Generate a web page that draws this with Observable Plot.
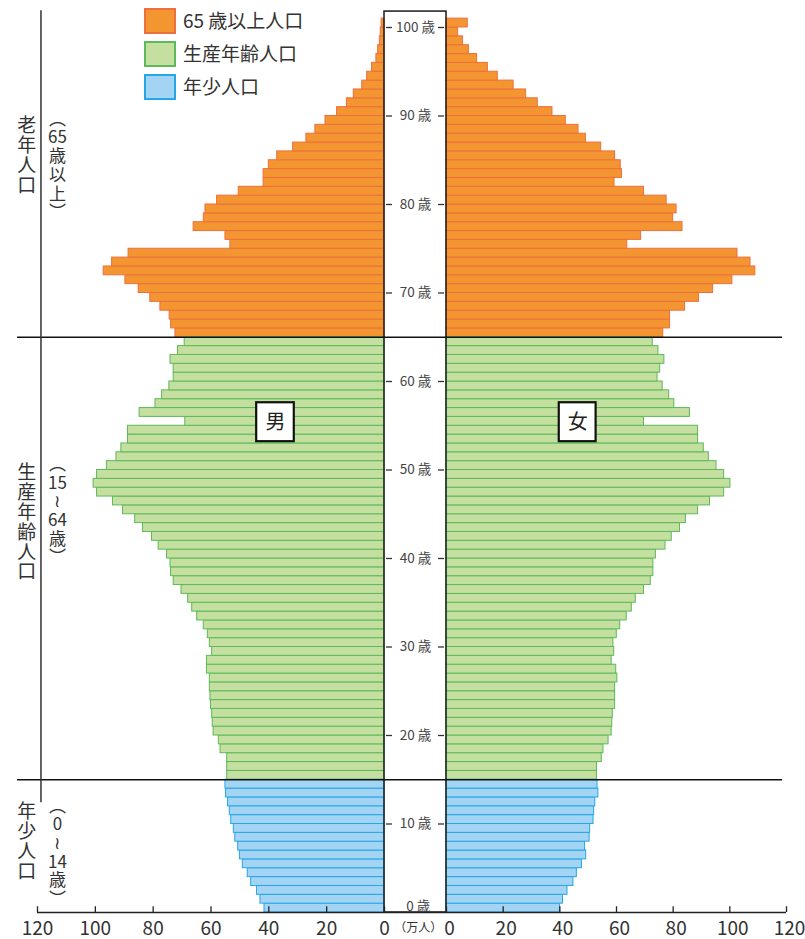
<!DOCTYPE html>
<html>
<head>
<meta charset="utf-8">
<script src="https://cdn.jsdelivr.net/npm/d3@7"></script>
<script src="https://cdn.jsdelivr.net/npm/@observablehq/plot@0.6"></script>
<style>
  body { margin: 0; background: #fff; font-family: "Noto Sans CJK JP", "Noto Sans", sans-serif; }
  #wrap { position: relative; width: 805px; height: 939px; }
  #legend { position: absolute; left: 144px; top: 8px; }
  .item { position: relative; height: 33px; display: flex; align-items: flex-start; }
  .sw { width: 32px; height: 26px; box-sizing: border-box; border: 2px solid; }
  .lab { margin-left: 7px; font-size: 19px; line-height: 24px; color: #333; }
</style>
</head>
<body>
<div id="wrap">
  <div id="chart"></div>
  <div id="legend"></div>
</div>
<script>
// ---- data (万人) ----
const ages = d3.range(0, 101); // 0..100 (100 = 100歳以上)
const male = [
  41.5, 42.9, 44.1, 46.1, 47.3, 49.0, 50.0, 50.6, 51.6, 52.1,
  53.0, 53.5, 54.1, 54.8, 55.0, 54.4, 54.4, 54.4, 56.7, 57.3,
  59.1, 59.4, 59.6, 60.0, 60.2, 60.4, 60.4, 61.4, 61.4, 59.6,
  60.4, 61.1, 62.5, 64.8, 66.5, 67.9, 70.2, 72.9, 73.8, 74.0,
  75.2, 78.1, 80.4, 83.5, 86.2, 90.4, 93.9, 99.4, 100.6, 99.4,
  96.0, 92.7, 91.0, 88.7, 88.7, 68.9, 84.7, 79.2, 76.9, 74.4,
  72.9, 72.9, 74.0, 71.4, 69.1, 72.3, 73.8, 74.3, 77.5, 81.0,
  85.0, 89.6, 97.1, 94.2, 88.5, 53.3, 55.0, 66.0, 62.5, 61.9,
  57.9, 50.4, 41.8, 41.8, 40.0, 37.1, 31.6, 27.0, 23.9, 20.4,
  16.4, 13.0, 10.6, 7.7, 6.0, 4.3, 2.8, 2.2, 1.6, 1.3,
  1.0
];
const female = [
  40.1, 41.1, 42.7, 44.8, 46.0, 47.8, 49.3, 48.9, 50.5, 50.7,
  51.9, 52.1, 52.5, 53.6, 53.3, 53.1, 53.1, 54.8, 55.4, 57.2,
  58.3, 58.5, 58.7, 59.5, 59.5, 59.5, 60.3, 59.9, 58.3, 59.2,
  58.9, 60.1, 61.3, 63.6, 65.4, 66.8, 69.7, 72.1, 73.0, 73.0,
  73.9, 77.3, 79.5, 82.4, 84.5, 88.8, 93.0, 98.0, 100.2, 98.0,
  95.3, 92.6, 90.8, 88.8, 88.8, 69.7, 85.9, 80.4, 78.6, 76.3,
  74.5, 75.4, 76.9, 74.8, 72.8, 76.5, 78.9, 78.9, 84.2, 89.1,
  94.1, 100.9, 109.0, 107.3, 102.7, 63.8, 68.7, 83.3, 80.0, 81.2,
  77.7, 69.7, 59.3, 61.9, 61.5, 59.5, 54.6, 49.2, 46.6, 42.1,
  37.4, 32.2, 28.1, 23.7, 18.1, 14.6, 10.8, 7.9, 5.8, 4.1,
  7.5
];
const groupNames = ["65 歳以上人口", "生産年齢人口", "年少人口"];
const groupFrom = [65, 15, 0];
const groupTo = [101, 65, 15];
const groupFill = ["#f39530", "#c4df9f", "#a3d4f3"];
const groupStroke = ["#ee6f3e", "#5cba58", "#27a6e6"];
const groupLabels = ["老\n年\n人\n口", "生\n産\n年\n齢\n人\n口", "年\n少\n人\n口"];
const groupSubLabels = ["︵\n65\n歳\n以\n上\n︶", "︵\n15\n≀\n64\n歳\n︶", "︵\n0\n≀\n14\n歳\n︶"];
const ageTicks = [0, 10, 20, 30, 40, 50, 60, 70, 80, 90, 100];
const popTicks = [0, 20, 40, 60, 80, 100, 120];
const sexNames = ["男", "女"];

// ---- layout constants ----
const OFF = 21.7;           // width of the central age column, in axis units
const AGE_TOP = 101;

const rows = ages.map((a, i) => ({
  age: a, male: male[i], female: female[i],
  g: groupFrom.findIndex((f, k) => a >= f && a < groupTo[k])
}));

const marks = [];
groupNames.forEach((name, k) => {
  const data = rows.filter(d => d.g === k);
  marks.push(Plot.rect(data, {
    x1: 0, x2: d => -d.male, y1: d => d.age, y2: d => d.age + 1,
    fill: groupFill[k], stroke: groupStroke[k], strokeWidth: 1
  }));
  marks.push(Plot.rect(data, {
    x1: OFF, x2: d => OFF + d.female, y1: d => d.age, y2: d => d.age + 1,
    fill: groupFill[k], stroke: groupStroke[k], strokeWidth: 1
  }));
});

// central age column
marks.push(Plot.rect([0], {x1: 0, x2: OFF, y1: 0, y2: 101.8, fill: "none", stroke: "#1a1a1a", strokeWidth: 1.5}));
marks.push(Plot.ruleY(ageTicks.filter(d => d > 0), {y: d => d, x1: 0.7, x2: 2.8, stroke: "#333", strokeWidth: 1.3}));
marks.push(Plot.ruleY(ageTicks.filter(d => d > 0), {y: d => d, x1: OFF - 2.8, x2: OFF - 0.7, stroke: "#333", strokeWidth: 1.3}));
marks.push(Plot.text(ageTicks, {
  x: d => d === 0 ? OFF / 2 + 1 : OFF / 2, y: d => d === 0 ? 0.65 : d,
  text: d => `${d} 歳`, fontSize: 13.5, fill: "#444"
}));

// group boundaries
marks.push(Plot.ruleY([15, 65], {x1: -126.9, x2: OFF + 118.6, stroke: "#111", strokeWidth: 1.3}));
marks.push(Plot.ruleX([-118.8], {y1: 12.4, y2: 101.9, stroke: "#333", strokeWidth: 1.5}));

// group labels
const labelAges = [85.5, 44.1, 8.0];
const subAges = [84.4, 45.4, 6.8];
marks.push(Plot.text(groupLabels, {x: -123.7, y: (d, i) => labelAges[i], text: d => d, fontSize: 19, lineHeight: 1.05, fill: "#333"}));
marks.push(Plot.text(groupSubLabels, {x: -113.1, y: (d, i) => subAges[i], text: d => d, fontSize: 17, lineHeight: 1.1, fill: "#333"}));

// sex labels
const sexX = [-37.7, OFF + 46.3];
const sexAge = 55.4;
marks.push(Plot.rect(sexNames, {x1: (d, i) => sexX[i] - 6.5, x2: (d, i) => sexX[i] + 6.5, y1: sexAge - 2.2, y2: sexAge + 2.2, fill: "white", stroke: "#111", strokeWidth: 2.2}));
marks.push(Plot.text(sexNames, {x: (d, i) => sexX[i], y: sexAge, text: d => d, fontSize: 20, fill: "#222"}));

// population axis
marks.push(Plot.ruleY([0], {x1: -120, x2: OFF + 120, stroke: "#222", strokeWidth: 1.3}));
marks.push(Plot.ruleX(popTicks, {x: d => -d, y1: 0, y2: 0.65, stroke: "#222", strokeWidth: 1.3}));
marks.push(Plot.ruleX(popTicks, {x: d => OFF + d, y1: 0, y2: 0.65, stroke: "#222", strokeWidth: 1.3}));
marks.push(Plot.text(popTicks, {x: d => -d, y: 0, dy: 16, text: d => String(d), fontSize: 19, fill: "#333"}));
marks.push(Plot.text(popTicks, {x: d => OFF + d, y: 0, dy: 16, dx: 3, text: d => String(d), fontSize: 19, fill: "#333"}));
marks.push(Plot.text(["（万人）"], {x: OFF / 2 + 1, y: 0, dy: 16, text: d => d, fontSize: 12, fill: "#333"}));

const chart = Plot.plot({
  width: 805,
  height: 939,
  margin: 0,
  x: {type: "linear", domain: [-120, 0, OFF, OFF + 120], range: [37, 384, 446, 786], axis: null},
  y: {type: "linear", domain: [0, AGE_TOP], range: [912, 18.15], axis: null},
  style: {fontFamily: '"Noto Sans CJK JP", "Noto Sans", sans-serif', background: "white", overflow: "visible"},
  marks
});
document.getElementById("chart").appendChild(chart);

// legend
const legend = document.getElementById("legend");
groupNames.forEach((name, k) => {
  const item = document.createElement("div");
  item.className = "item";
  item.innerHTML = `<div class="sw" style="background:${groupFill[k]};border-color:${groupStroke[k]}"></div><div class="lab">${name}</div>`;
  legend.appendChild(item);
});
</script>
</body>
</html>
